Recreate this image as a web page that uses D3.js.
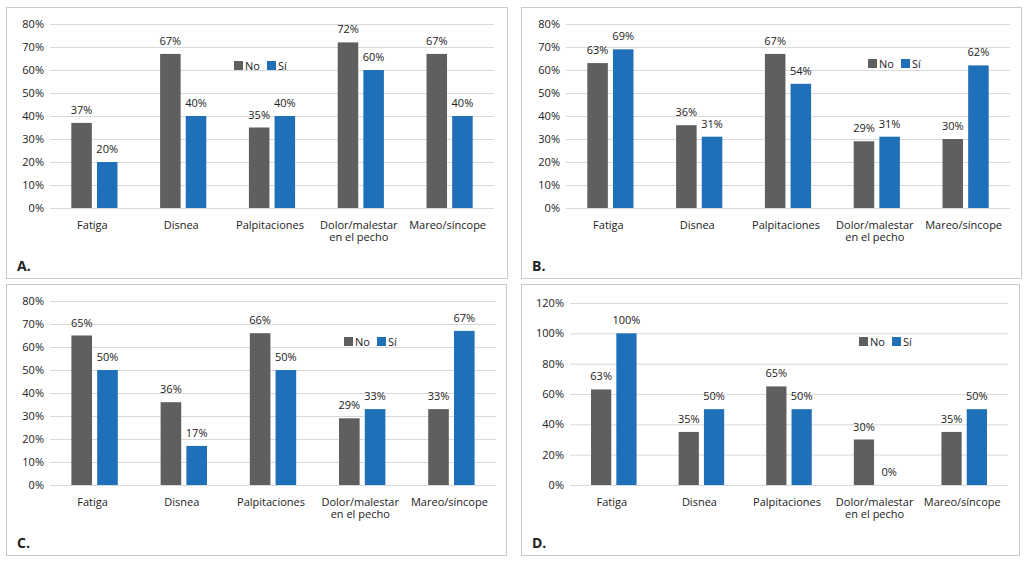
<!DOCTYPE html>
<html>
<head>
<meta charset="utf-8">
<script src="https://cdn.jsdelivr.net/npm/d3@7"></script>
<style>
	body { margin: 0; background: #fff; }
	text { font-family: "Open Sans", "Noto Sans", sans-serif; fill: #222; }
</style>
</head>
<body>
<main></main>
<script>

// DATA
const categories = ['Fatiga', 'Disnea', 'Palpitaciones', 'Dolor/malestar\nen el pecho', 'Mareo/síncope'];
const seriesNames = ['No', 'Sí'];
const aNo = [37, 67, 35, 72, 67];
const aSi = [20, 40, 40, 60, 40];
const bNo = [63, 36, 67, 29, 30];
const bSi = [69, 31, 54, 31, 62];
const cNo = [65, 36, 66, 29, 33];
const cSi = [50, 17, 50, 33, 67];
const dNo = [63, 35, 65, 30, 35];
const dSi = [100, 50, 50, 0, 50];
const ticksABC = [0, 10, 20, 30, 40, 50, 60, 70, 80];
const ticksD = [0, 20, 40, 60, 80, 100, 120];

// colours
const colors = { 'No': '#5f5f5f', 'Sí': '#1f70b9' };

// panels (layout kept apart from the values)
const panels = [
	{ letter: 'A.', no: aNo, si: aSi, ticks: ticksABC, x: 6, y: 7, w: 502, h: 272, left: 44, right: 488, top: 17, lx: 228, ly: 54 },
	{ letter: 'B.', no: bNo, si: bSi, ticks: ticksABC, x: 521, y: 7, w: 501, h: 272, left: 45, right: 489, top: 17, lx: 347, ly: 52 },
	{ letter: 'C.', no: cNo, si: cSi, ticks: ticksABC, x: 6, y: 284, w: 501, h: 272, left: 44, right: 490, top: 17, lx: 338, ly: 53 },
	{ letter: 'D.', no: dNo, si: dSi, ticks: ticksD, x: 521, y: 284, w: 499, h: 272, left: 49, right: 487, top: 19, lx: 338, ly: 53 }
];

const W = 1030, H = 564;
const svg = d3.select('main').append('svg').attr('width', W).attr('height', H);

function drawPanel(p) {
	const g = svg.append('g').attr('transform', 'translate(' + p.x + ',' + p.y + ')');
	const bottom = 201;

	// border
	g.append('rect').attr('x', 0.5).attr('y', 0.5).attr('width', p.w - 1).attr('height', p.h - 1)
		.attr('fill', '#fff').attr('stroke', '#cacaca');

	// scales
	const yMax = d3.max(p.ticks);
	const y = d3.scaleLinear().domain([0, yMax]).range([bottom, p.top]);
	const x0 = d3.scaleBand().domain(categories).range([p.left, p.right]).paddingInner(0.48).paddingOuter(0.24);
	const x1 = d3.scaleBand().domain(seriesNames).range([0, x0.bandwidth()]).paddingInner(0.2);

	// y axis with gridlines
	const yAxis = d3.axisLeft(y).tickValues(p.ticks).tickSize(-(p.right - p.left)).tickPadding(6)
		.tickFormat(d => d + '%');
	const ya = g.append('g').attr('transform', 'translate(' + p.left + ',0)').call(yAxis);
	ya.select('.domain').remove();
	ya.selectAll('.tick line').attr('stroke', '#d9d9d9');
	ya.selectAll('.tick text').attr('font-size', 11).attr('fill', '#222');

	// bars
	const rows = categories.map((c, i) => ({ cat: c, vals: [{ s: 'No', v: p.no[i] }, { s: 'Sí', v: p.si[i] }] }));
	const grp = g.selectAll('g.cat').data(rows).enter().append('g').attr('class', 'cat')
		.attr('transform', d => 'translate(' + x0(d.cat) + ',0)');
	grp.selectAll('rect').data(d => d.vals).enter().append('rect')
		.attr('x', d => x1(d.s)).attr('width', x1.bandwidth())
		.attr('y', d => y(d.v)).attr('height', d => bottom - y(d.v))
		.attr('fill', d => colors[d.s]);
	// data labels
	grp.selectAll('text').data(d => d.vals).enter().append('text')
		.attr('x', d => x1(d.s) + x1.bandwidth() / 2).attr('y', d => y(d.v) - 9)
		.attr('text-anchor', 'middle').attr('font-size', 11).text(d => d.v + '%');

	// category labels
	const cl = g.selectAll('text.cl').data(categories).enter().append('text').attr('class', 'cl')
		.attr('text-anchor', 'middle').attr('font-size', 11)
		.attr('transform', d => 'translate(' + (x0(d) + x0.bandwidth() / 2 - 2) + ',' + (bottom + 21) + ')');
	cl.selectAll('tspan').data(d => d.split('\n')).enter().append('tspan')
		.attr('x', 0).attr('dy', (d, i) => i === 0 ? 0 : 12).text(d => d);

	// legend
	const lg = g.append('g').attr('transform', 'translate(' + p.lx + ',' + p.ly + ')');
	const item = lg.selectAll('g').data(seriesNames).enter().append('g')
		.attr('transform', (d, i) => 'translate(' + (i * 33) + ',0)');
	item.append('rect').attr('width', 9).attr('height', 9).attr('fill', d => colors[d]);
	item.append('text').attr('x', 11).attr('y', 8.5).attr('font-size', 11).text(d => d);

	// panel letter
	g.append('text').attr('x', 11).attr('y', 264).attr('font-size', 14).attr('font-weight', 'bold')
		.attr('fill', '#111').text(p.letter);
}

panels.forEach(drawPanel);
</script>
</body>
</html>
